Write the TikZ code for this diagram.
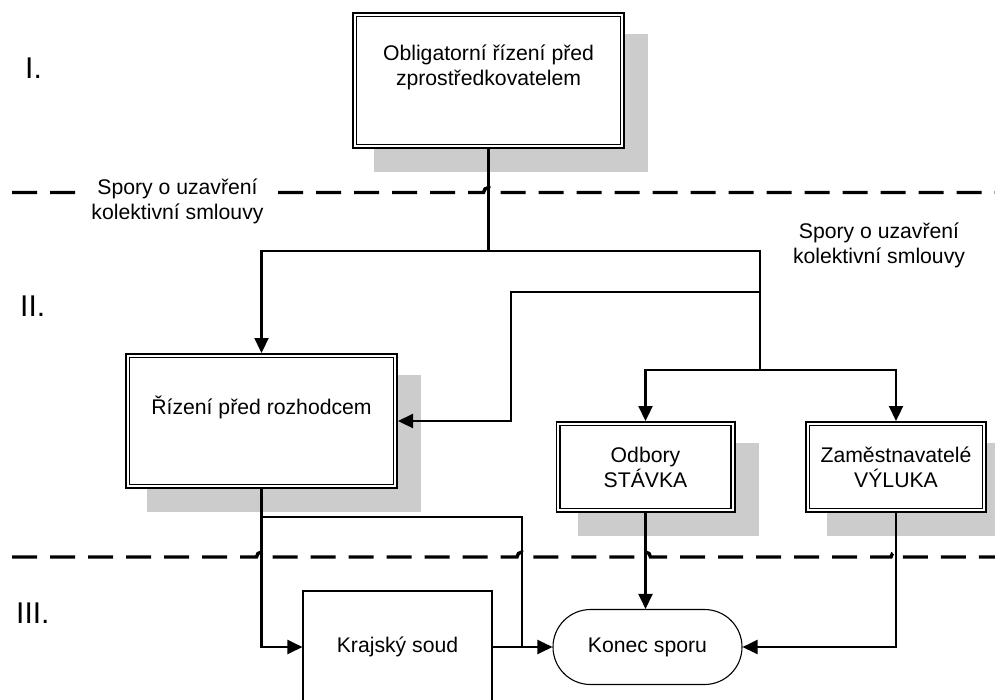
\documentclass[tikz,border=0pt]{standalone}
\usepackage{fontspec}
\setmainfont{Liberation Sans}
\usetikzlibrary{arrows.meta,backgrounds,calc}
\definecolor{shadowgray}{RGB}{204,204,204}
\tikzset{
  txt/.style={font=\fontsize{21.2}{25}\selectfont, align=center},
  dblbox/.style={draw, double, double distance=2pt, line width=1.6pt,
    fill=white, inner sep=0pt, outer sep=2.6pt, txt},
  thinbox/.style={draw, line width=1.1pt, fill=white, inner sep=0pt, outer sep=0.55pt, txt},
  boxtext/.style={inner sep=0pt, txt},
  note/.style={inner sep=0pt, txt},
  lvl/.style={inner sep=0pt, font=\fontsize{30}{34}\selectfont},
  conn/.style={draw, line width=2.2pt},
  arr/.style={-{Triangle[length=15pt,width=14pt]}},
  divider/.style={line width=3.4pt, dash pattern=on 25pt off 13pt, dash phase=26pt},
  shadowfill/.style={fill=shadowgray}
}
\begin{document}
\begin{tikzpicture}[x=1pt,y=-1pt]
\useasboundingbox (0,0) rectangle (995,699);
\clip (0,0) rectangle (995,699);

% level dividers with hops over the crossing connectors
\draw[divider] (0,192.5) -- (483.5,192.5) arc[start angle=180,end angle=0,radius=5pt] -- (995,192.5);
\draw[divider] (0,557) -- (256.5,557) arc[start angle=180,end angle=0,radius=5pt]
  -- (517,557) arc[start angle=180,end angle=0,radius=5pt]
  -- (640.5,557) arc[start angle=180,end angle=0,radius=5pt]
  -- (891,557) arc[start angle=180,end angle=0,radius=5pt] -- (995,557);

% level numbers
\node[lvl, anchor=base west] (lvl1) at (25,78) {I.};
\node[lvl, anchor=base west] (lvl2) at (20,316) {II.};
\node[lvl, anchor=base west] (lvl3) at (16,623) {III.};

% process boxes
\node[dblbox, minimum width=267.8pt, minimum height=131.8pt] (top) at (488.5,80.5) {};
\node[boxtext] (toptext) at ([yshift=13.5pt]top.center) {Obligatorní řízení před\\zprostředkovatelem};
\node[dblbox, minimum width=267.8pt, minimum height=130.8pt] (riz) at (261.5,421) {};
\node[boxtext] (riztext) at ([yshift=14pt]riz.center) {Řízení před rozhodcem};
\node[dblbox, minimum width=174.8pt, minimum height=86.8pt] (odb) at (645.5,467) {Odbory\\STÁVKA};
\node[dblbox, minimum width=176.8pt, minimum height=86.8pt] (zam) at (896,467) {Zaměstnavatelé\\VÝLUKA};
\node[thinbox, minimum width=189pt, minimum height=112pt] (kraj) at (397.5,647) {Krajský soud};
\node[thinbox, rounded corners=37.5pt, minimum width=189pt, minimum height=75pt] (konec) at (647.5,647) {Konec sporu};

% drop shadows
\begin{scope}[on background layer]
  \foreach \b in {top,riz,odb,zam}
    \fill[shadowfill] ($(\b.north west)+(22,22)$) rectangle ($(\b.south east)+(23,23)$);
\end{scope}

% branch points
\coordinate (j1) at (488.5,251);
\coordinate (j2) at (760,251);
\coordinate (j3) at (760,292);
\coordinate (j4) at (760,370);
\coordinate (k1) at (511,292);
\coordinate (b1) at (261.5,517);
\coordinate (b2) at (522,517);
\coordinate (b3) at (522,647);

% connectors
\draw[conn] (top.south) -- (j1);
\draw[conn, arr] (j1) -| (riz.north);
\draw[conn] (j1) -- (j2) -- (j4);
\draw[conn, arr] (j3) -- (k1) |- (riz.east);
\draw[conn, arr] (j4) -| (odb.north);
\draw[conn, arr] (j4) -| (zam.north);
\draw[conn, arr] (riz.south) |- (kraj.west);
\draw[conn] (b1) -- (b2) -- (b3);
\draw[conn, arr] (kraj.east) -- (konec.west);
\draw[conn, arr] (odb.south) -- (odb.south |- konec.north);
\draw[conn, arr] (zam.south) |- (konec.east);

% dispute labels
\node[note, fill=white, inner xsep=3pt, inner ysep=1pt] (lblL) at (177.5,201) {Spory o uzavření\\kolektivní smlouvy};
\node[note] (lblR) at (879,245.5) {Spory o uzavření\\kolektivní smlouvy};
\end{tikzpicture}
\end{document}
